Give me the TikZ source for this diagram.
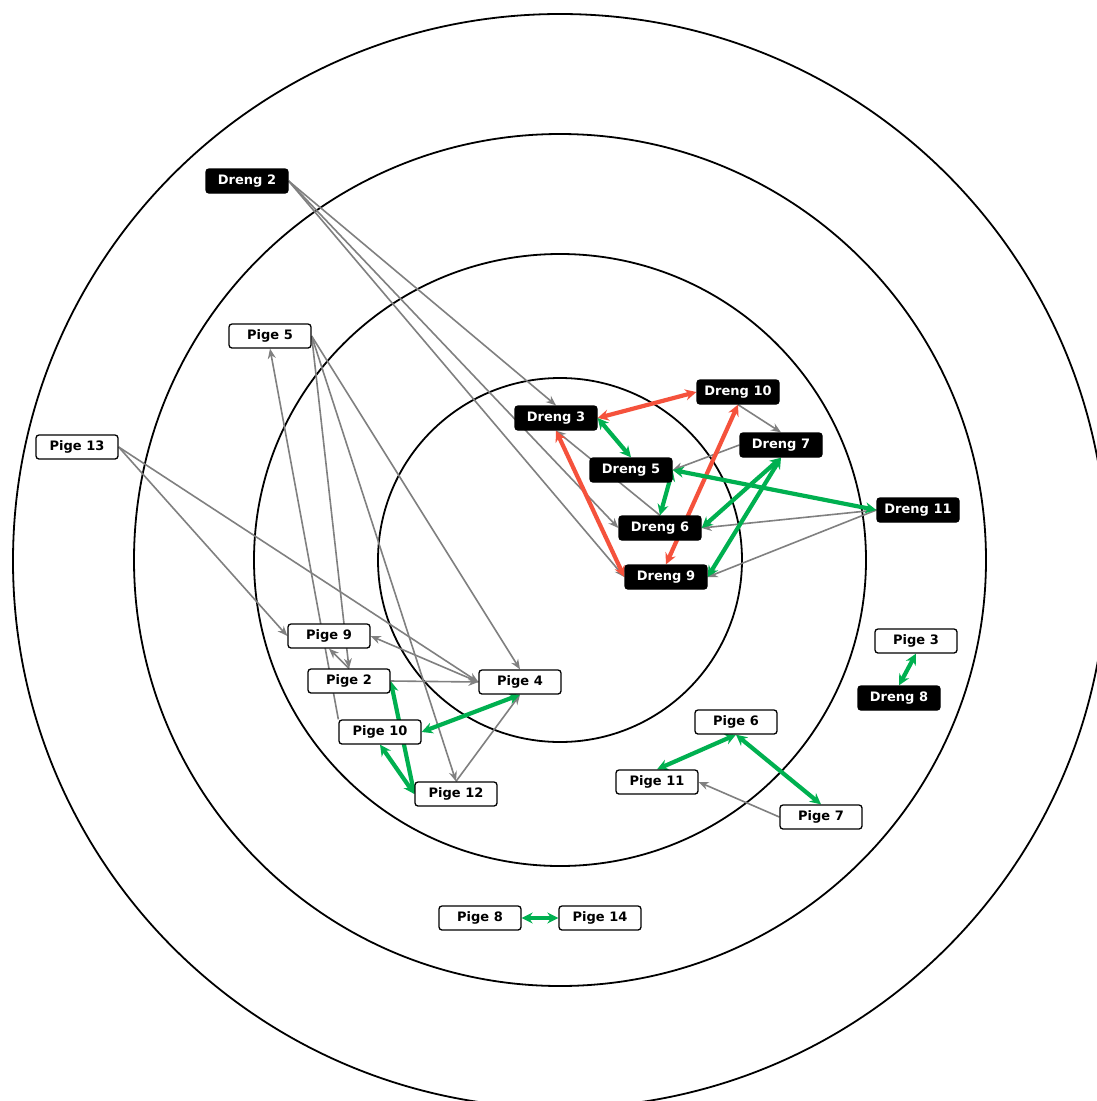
\documentclass[tikz,border=0pt]{standalone}
\usepackage{fontspec}
\setmainfont{DejaVu Sans}
\usetikzlibrary{arrows.meta}
\pgfdeclarelayer{rings}
\pgfdeclarelayer{links}
\pgfsetlayers{rings,links,main}
\definecolor{linkgray}{RGB}{128,128,128}
\definecolor{mutgreen}{RGB}{0,176,80}
\definecolor{clashred}{RGB}{245,82,60}
\tikzset{
  girl/.style={draw=black, fill=white, line width=1.3pt, rounded corners=3pt,
    minimum width=82pt, minimum height=24pt, inner sep=0pt,
    font=\bfseries\fontsize{13}{15}\selectfont},
  boy/.style={girl, fill=black, text=white},
  ring/.style={draw=black, line width=1.8pt},
  link/.style={draw=linkgray, line width=1.6pt, -{Stealth[length=10pt,width=8pt]}},
  mutual/.style={draw=mutgreen, line width=4.2pt,
    {Stealth[length=11pt,width=11pt]}-{Stealth[length=11pt,width=11pt]}},
  clash/.style={draw=clashred, line width=4.2pt,
    {Stealth[length=11pt,width=11pt]}-{Stealth[length=11pt,width=11pt]}}
}
\begin{document}
\begin{tikzpicture}[x=1pt,y=-1pt]
\useasboundingbox (0,0) rectangle (1097,1101);

% concentric rings
\begin{pgfonlayer}{rings}
  \fill[white] (0,0) rectangle (1097,1101);
  \begin{scope}
    \clip (0,0) rectangle (1097,1101);
    \draw[ring] (560,560) circle[radius=182];
    \draw[ring] (560,560) circle[radius=306];
    \draw[ring] (560,560) circle[radius=426];
    \draw[ring] (560,561) circle[radius=547];
  \end{scope}
\end{pgfonlayer}

% boys
\node[boy] (D2)  at (247,181) {Dreng 2};
\node[boy] (D3)  at (556,418) {Dreng 3};
\node[boy] (D10) at (738,392) {Dreng 10};
\node[boy] (D7)  at (781,445) {Dreng 7};
\node[boy] (D5)  at (631,470) {Dreng 5};
\node[boy] (D6)  at (660,528) {Dreng 6};
\node[boy] (D9)  at (666,577) {Dreng 9};
\node[boy] (D11) at (918,510) {Dreng 11};
\node[boy] (D8)  at (899,698) {Dreng 8};

% girls
\node[girl] (P5)  at (270,336) {Pige 5};
\node[girl] (P13) at (77,447)  {Pige 13};
\node[girl] (P9)  at (329,636) {Pige 9};
\node[girl] (P2)  at (349,681) {Pige 2};
\node[girl] (P4)  at (520,682) {Pige 4};
\node[girl] (P10) at (380,732) {Pige 10};
\node[girl] (P12) at (456,794) {Pige 12};
\node[girl] (P6)  at (736,722) {Pige 6};
\node[girl] (P11) at (657,782) {Pige 11};
\node[girl] (P7)  at (821,817) {Pige 7};
\node[girl] (P3)  at (916,641) {Pige 3};
\node[girl] (P8)  at (480,918) {Pige 8};
\node[girl] (P14) at (600,918) {Pige 14};

\begin{pgfonlayer}{links}
  % one-way choices
  \draw[link] (D2.east) -- (D3.north);
  \draw[link] (D2.east) -- (D6.west);
  \draw[link] (D2.east) -- (D9.west);
  \draw[link] (D6.north) -- (D3.south);
  \draw[link] (D10.south) -- (D7.north);
  \draw[link] (D7.west) -- (D5.east);
  \draw[link] (D11.west) -- (D6.east);
  \draw[link] (D11.west) -- (D9.east);
  \draw[link] (P5.east) -- (P4.north);
  \draw[link] (P5.east) -- (P2.north);
  \draw[link] (P5.east) -- (P12.north);
  \draw[link] (P10.north west) -- (P5.south);
  \draw[link] (P2.north) -- (P9.south);
  \draw[link] (P4.west) -- (P9.east);
  \draw[link] (P13.east) -- (P9.west);
  \draw[link] (P13.east) -- (P4.west);
  \draw[link] (P2.east) -- (P4.west);
  \draw[link] (P12.north) -- (P4.south);
  \draw[link] (P7.west) -- (P11.east);

  % mutual rejections
  \draw[clash] (D3.east) -- (D10.west);
  \draw[clash] (D3.south) -- (D9.west);
  \draw[clash] (D10.south) -- (D9.north);

  % mutual choices
  \draw[mutual] (D3.east) -- (D5.north);
  \draw[mutual] (D5.east) -- (D6.north);
  \draw[mutual] (D7.south) -- (D6.east);
  \draw[mutual] (D7.south) -- (D9.east);
  \draw[mutual] (D11.west) -- (D5.east);
  \draw[mutual] (P4.south) -- (P10.east);
  \draw[mutual] (P2.east) -- (P12.west);
  \draw[mutual] (P10.south) -- (P12.west);
  \draw[mutual] (P6.south) -- (P11.north);
  \draw[mutual] (P6.south) -- (P7.north);
  \draw[mutual] (P3.south) -- (D8.north);
  \draw[mutual] (P8.east) -- (P14.west);
\end{pgfonlayer}
\end{tikzpicture}
\end{document}
